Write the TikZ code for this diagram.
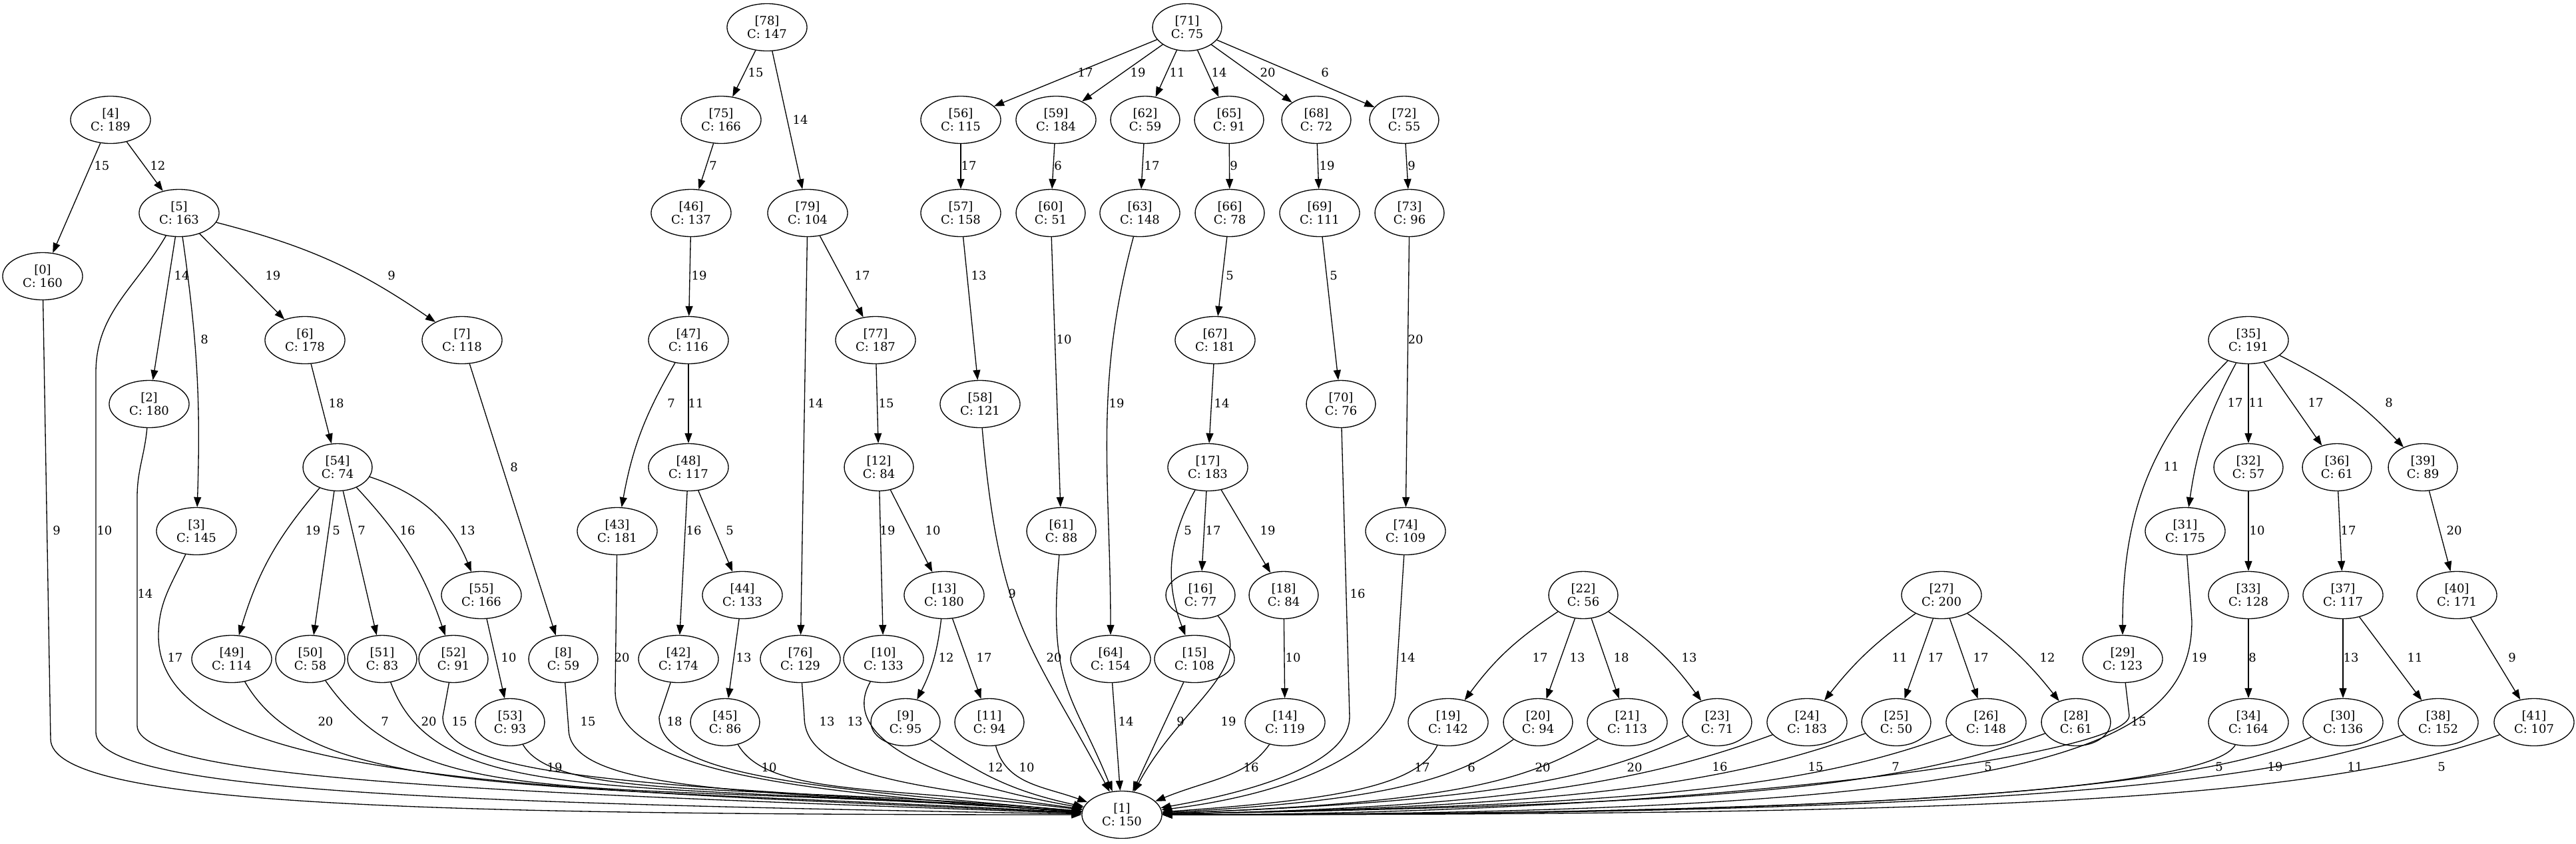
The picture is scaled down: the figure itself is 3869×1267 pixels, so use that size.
\documentclass[tikz,border=0pt]{standalone}
\usepackage{fontspec}
\setmainfont{DejaVu Serif}
\usetikzlibrary{arrows.meta, shapes.geometric}
\tikzset{
x=0.25pt, y=-0.25pt, % one unit is one pixel of the drawing, y runs downwards
>={Triangle[length=3.75pt,width=2.75pt]}, % filled arrow heads
vertex/.style={draw, ellipse, line width=0.33pt, align=center, inner xsep=3.125pt, inner ysep=0.75pt, minimum height=17.75pt, font=\fontsize{4.5}{5.125}\selectfont}, % every cell
link/.style={->, line width=0.33pt}, % every connector
lbl/.style={inner sep=0pt, font=\fontsize{4.5}{5.125}\selectfont}, % weights on the connectors
}
\begin{document}
\begin{tikzpicture}
\useasboundingbox (0,0) rectangle (3869,1267);
        % cells: index/cost/x/y
        \foreach \n/\cost/\x/\y in {0/160/64/415, 1/150/1685/1224, 2/180/224/607, 3/145/295/798, 4/189/166/180,
          5/163/269/320, 6/178/458/511, 7/118/694/511, 8/59/846/990, 9/95/1360/1085, 10/133/1327/990,
          11/94/1486/1085, 12/84/1320/702, 13/180/1418/894, 14/119/1930/1085, 15/108/1794/990, 16/77/1803/894,
          17/183/1814/702, 18/84/1928/894, 19/142/2175/1085, 20/94/2310/1085, 21/113/2444/1085, 22/56/2378/894,
          23/71/2579/1085, 24/183/2714/1085, 25/50/2848/1085, 26/148/2983/1085, 27/200/2916/894, 28/61/3118/1085,
          29/123/3188/990, 30/136/3519/1085, 31/175/3282/798, 32/57/3377/702, 33/128/3377/894, 34/164/3377/1085,
          35/191/3377/511, 36/61/3510/702, 37/117/3519/894, 38/152/3662/1085, 39/89/3639/702, 40/171/3690/894,
          41/107/3806/1085, 42/174/1019/990, 43/181/927/798, 44/133/1115/894, 45/86/1089/1085, 46/137/1038/320,
          47/116/1034/511, 48/117/1034/702, 49/114/348/990, 50/58/466/990, 51/83/574/990, 52/91/681/990,
          53/93/766/1085, 54/74/507/702, 55/166/723/894, 56/115/1443/180, 57/158/1443/320, 58/121/1472/607,
          59/184/1586/180, 60/51/1578/320, 61/88/1594/798, 62/59/1720/180, 63/148/1712/320, 64/154/1668/990,
          65/91/1846/180, 66/78/1847/320, 67/181/1825/511, 68/72/1977/180, 69/111/1982/320, 70/76/2014/607,
          71/75/1783/41, 72/55/2109/180, 73/96/2117/320, 74/109/2111/798, 75/166/1083/180, 76/129/1202/990,
          77/187/1315/511, 78/147/1152/41, 79/104/1213/320}
          \node[vertex] (n\n) at (\x,\y) {[\n]\\C: \cost};
        % straight connectors: from/to/weight/label x/label y
        \foreach \src/\dst/\wt/\lx/\ly in {4/0/15/153/249, 4/5/12/237/249, 5/2/14/273/414, 5/6/19/410/414,
          6/54/18/505/606, 7/8/8/772/702, 54/50/5/505/797, 54/51/7/543/797, 55/53/10/764/988,
          78/75/15/1135/109, 78/79/14/1202/180, 75/46/7/1071/249, 46/47/19/1050/414, 47/48/11/1045/606,
          48/42/16/1042/797, 48/44/5/1096/797, 44/45/13/1117/988, 79/76/14/1225/606, 79/77/17/1295/414,
          77/12/15/1331/606, 12/10/19/1333/797, 12/13/10/1401/797, 13/11/17/1478/988,
          71/56/17/1630/109, 71/59/19/1709/109, 71/62/11/1768/109, 71/65/14/1831/109, 71/68/20/1904/109,
          71/72/6/1990/109, 56/57/17/1455/249, 59/60/6/1589/249, 62/63/17/1730/249, 65/66/9/1853/249,
          57/58/13/1470/414, 60/61/10/1598/510, 66/67/5/1847/414, 67/17/14/1835/606, 17/16/17/1822/797,
          17/18/19/1904/797, 18/14/10/1942/988, 68/69/19/1993/249, 72/73/9/2120/249, 69/70/5/2003/414,
          73/74/20/2126/510, 22/20/13/2369/988, 22/21/18/2435/988, 27/25/17/2907/988, 27/26/17/2975/988,
          35/32/11/3389/605, 35/36/17/3478/605, 32/33/10/3390/797, 36/37/17/3527/797, 39/40/20/3686/797,
          33/34/8/3383/988, 37/30/13/3531/988, 37/38/11/3627/988, 40/41/9/3773/988}{
          \draw[link] (n\src) -- (n\dst);
          \node[lbl] (w\src-\dst) at (\lx,\ly) {\wt};
        }
        % bent connectors: from/to/weight/label x/label y/bend
        \foreach \src/\dst/\wt/\lx/\ly/\bl in {5/3/8/307/510/5, 5/7/9/588/414/10, 54/49/19/470/797/-12,
          54/52/16/612/797/12, 54/55/13/702/797/25, 47/43/7/1008/606/-10, 13/9/12/1421/988/10,
          17/15/5/1784/797/-25, 22/19/17/2313/988/-10, 22/23/13/2537/988/10, 27/24/11/2853/988/-8,
          27/28/12/3075/988/8, 35/31/17/3357/605/-10, 35/39/8/3588/605/10}{
          \draw[link] (n\src) to[bend left=\bl] (n\dst);
          \node[lbl] (w\src-\dst) at (\lx,\ly) {\wt};
        }
        \draw[link] (n35) to[out=-135,in=90] (n29);
        \node[lbl] (w35-29) at (3261,701) {11};
        \draw[link] (n63) to[out=-105,in=90] (n64);
        \node[lbl] (w63-64) at (1677,606) {19};
        % connectors into [1], from the left
        \draw[link] (n0) -- ++(12,695) to[out=-90,in=180,out distance=25pt,in distance=250pt] (n1);
        \draw[link] (n5) to[out=-120,in=90] ++(-125,240) -- ++(0,540) to[out=-90,in=179,out distance=22.5pt,in distance=237.5pt] (n1);
        \draw[link] (n2) to[out=-95,in=90] ++(-18,140) -- ++(0,343) to[out=-90,in=178,out distance=20pt,in distance=225pt] (n1);
        \draw[link] (n3) to[out=-115,in=90] ++(-57,157) to[out=-90,in=177.5,out distance=55pt,in distance=212.5pt] (n1);
        \draw[link] (n49) to[out=-60,in=177,out distance=50pt,in distance=212.5pt] (n1);
        \draw[link] (n50) to[out=-55,in=176,out distance=62.5pt,in distance=187.5pt] (n1);
        \draw[link] (n51) to[out=-70,in=176,out distance=50pt,in distance=175pt] (n1);
        \draw[link] (n52) -- ++(-16,87) to[out=-90,in=176,out distance=25pt,in distance=150pt] (n1);
        \draw[link] (n53) to[out=-60,in=175,out distance=25pt,in distance=125pt] (n1);
        \draw[link] (n8) -- ++(8,105) to[out=-90,in=176,out distance=25pt,in distance=112.5pt] (n1);
        \draw[link] (n43) -- ++(-3,240) to[out=-90,in=176,out distance=30pt,in distance=112.5pt] (n1);
        \draw[link] (n42) -- ++(-29,87) to[out=-90,in=175,out distance=22.5pt,in distance=100pt] (n1);
        \draw[link] (n45) to[out=-60,in=173,out distance=22.5pt,in distance=75pt] (n1);
        \draw[link] (n76) -- ++(6,87) to[out=-90,in=172,out distance=22.5pt,in distance=62.5pt] (n1);
        \draw[link] (n10) to[out=-120,in=170,out distance=22.5pt,in distance=62.5pt] (n1);
        \draw[link] (n9) to[out=-35,in=168,out distance=20pt,in distance=30pt] (n1);
        \draw[link] (n11) to[out=-75,in=160,out distance=15pt,in distance=17.5pt] (n1);
        % from above
        \draw[link] (n58) to[out=-85,in=118,out distance=75pt,in distance=62.5pt] (n1);
        \draw[link] (n61) to[out=-95,in=112,out distance=50pt,in distance=40pt] (n1);
        \draw[link] (n64) -- (n1);
        \draw[link] (n15) -- (n1);
        \draw[link] (n16) to[out=-50,in=62,out distance=25pt,in distance=37.5pt] (n1);
        \draw[link] (n14) to[out=-125,in=22,out distance=15pt,in distance=22.5pt] (n1);
        % from the right
        \draw[link] (n70) -- ++(13,470) to[out=-90,in=10,out distance=15pt,in distance=45pt] (n1);
        \draw[link] (n74) -- ++(-15,240) to[out=-90,in=7,out distance=20pt,in distance=55pt] (n1);
        \draw[link] (n19) to[out=-115,in=4,out distance=17.5pt,in distance=62.5pt] (n1);
        \draw[link] (n20) to[out=-145,in=3,out distance=25pt,in distance=87.5pt] (n1);
        \draw[link] (n21) to[out=-150,in=2,out distance=30pt,in distance=112.5pt] (n1);
        \draw[link] (n23) to[out=-155,in=2,out distance=37.5pt,in distance=125pt] (n1);
        \draw[link] (n24) to[out=-160,in=1,out distance=45pt,in distance=137.5pt] (n1);
        \draw[link] (n25) to[out=-160,in=1,out distance=50pt,in distance=162.5pt] (n1);
        \draw[link] (n26) to[out=-160,in=1,out distance=55pt,in distance=187.5pt] (n1);
        \draw[link] (n28) to[out=-160,in=1,out distance=60pt,in distance=212.5pt] (n1);
        \draw[link] (n29) -- ++(10,85) to[out=-90,in=0,out distance=15pt,in distance=200pt] (n1);
        \draw[link] (n31) -- ++(10,135) to[out=-90,in=0,out distance=50pt,in distance=325pt] (n1);
        \draw[link] (n34) to[out=-120,in=0,out distance=20pt,in distance=250pt] (n1);
        \draw[link] (n30) to[out=-155,in=0,out distance=50pt,in distance=250pt] (n1);
        \draw[link] (n38) to[out=-160,in=0,out distance=62.5pt,in distance=275pt] (n1);
        \draw[link] (n41) to[out=-160,in=0,out distance=75pt,in distance=300pt] (n1);
        % weights on the connectors into [1]: from/weight/label x/label y
        \foreach \src/\wt/\lx/\ly in {0/9/85/797, 5/10/157/797, 2/14/218/892, 3/17/263/988, 49/20/489/1084,
          50/7/578/1084, 51/20/644/1084, 52/15/690/1084, 53/19/833/1153, 8/15/883/1084, 43/20/934/988,
          42/18/1013/1084, 45/10/1155/1153, 76/13/1242/1084, 10/13/1284/1084, 9/12/1495/1153, 11/10/1542/1153,
          58/9/1520/892, 61/20/1583/988, 64/14/1691/1084, 15/9/1773/1084, 16/19/1845/1084, 14/16/1879/1153,
          70/16/2039/892, 74/14/2114/988, 19/17/2136/1153, 20/6/2210/1153, 21/20/2317/1153, 23/20/2455/1153,
          24/16/2583/1152, 25/15/2727/1152, 26/7/2847/1152, 28/5/2986/1152, 29/15/3212/1084, 31/19/3303/988,
          34/5/3333/1152, 30/19/3417/1152, 38/11/3537/1152, 41/5/3667/1152}
          \node[lbl] (w\src-1) at (\lx,\ly) {\wt};
\end{tikzpicture}
\end{document}
